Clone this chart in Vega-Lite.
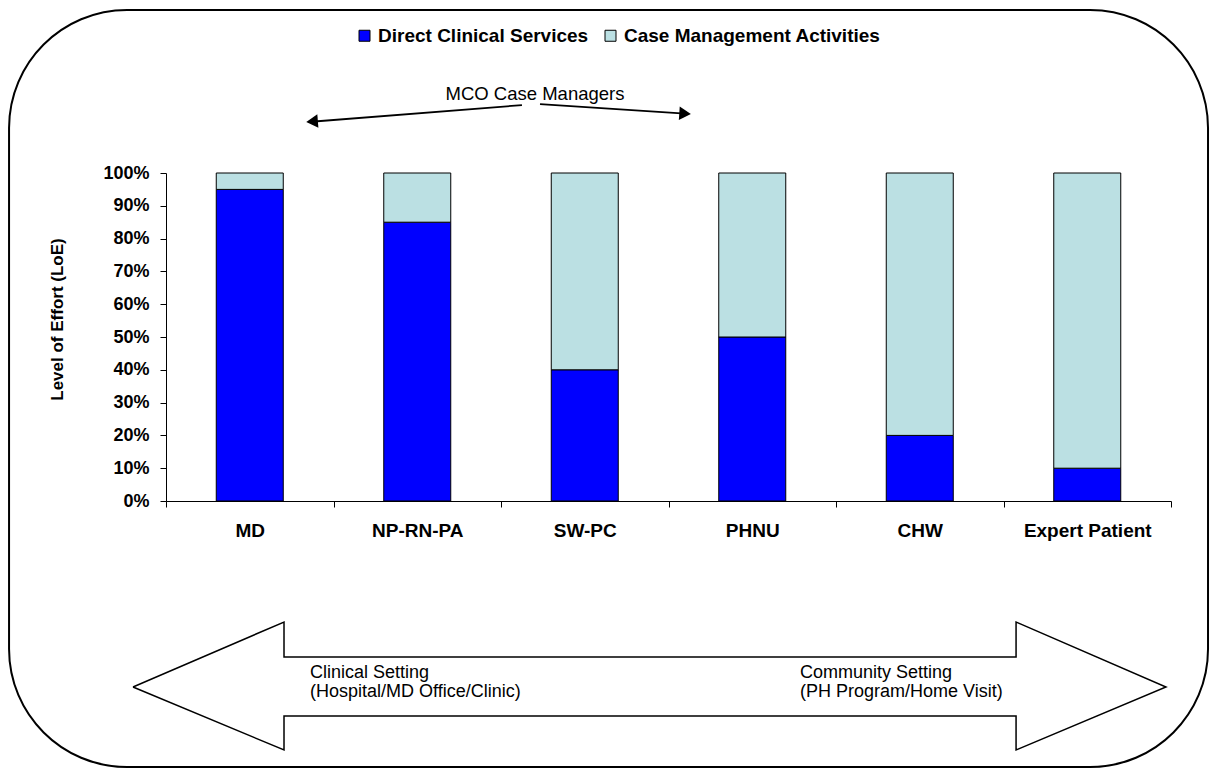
{
  "$schema": "https://vega.github.io/schema/vega-lite/v6.json",
  "width": 1005,
  "height": 328,
  "autosize": {"type": "none"},
  "padding": {"left": 166, "top": 173, "right": 39, "bottom": 274},
  "background": "white",
  "config": {
    "view": {"stroke": null},
    "font": "Liberation Sans",
    "axis": {
      "domainColor": "black",
      "tickColor": "black",
      "labelColor": "black",
      "titleColor": "black",
      "labelFont": "Liberation Sans",
      "titleFont": "Liberation Sans",
      "labelFontWeight": "bold",
      "grid": false
    }
  },
  "datasets": {
    "bars": [
      {"role": "MD", "series": "Direct Clinical Services", "value": 0.95},
      {"role": "MD", "series": "Case Management Activities", "value": 0.05},
      {"role": "NP-RN-PA", "series": "Direct Clinical Services", "value": 0.85},
      {"role": "NP-RN-PA", "series": "Case Management Activities", "value": 0.15},
      {"role": "SW-PC", "series": "Direct Clinical Services", "value": 0.40},
      {"role": "SW-PC", "series": "Case Management Activities", "value": 0.60},
      {"role": "PHNU", "series": "Direct Clinical Services", "value": 0.50},
      {"role": "PHNU", "series": "Case Management Activities", "value": 0.50},
      {"role": "CHW", "series": "Direct Clinical Services", "value": 0.20},
      {"role": "CHW", "series": "Case Management Activities", "value": 0.80},
      {"role": "Expert Patient", "series": "Direct Clinical Services", "value": 0.10},
      {"role": "Expert Patient", "series": "Case Management Activities", "value": 0.90}
    ],
    "border": [{"x": -0.937, "x2": 6.221, "y": 1.497, "y2": -0.811}],
    "bigArrow": [
      {"i": 0, "x": -0.197, "y": -0.567},
      {"i": 1, "x": 0.7045, "y": -0.369},
      {"i": 2, "x": 0.7045, "y": -0.4756},
      {"i": 3, "x": 5.075, "y": -0.4756},
      {"i": 4, "x": 5.075, "y": -0.369},
      {"i": 5, "x": 5.970, "y": -0.567},
      {"i": 6, "x": 5.075, "y": -0.759},
      {"i": 7, "x": 5.075, "y": -0.6555},
      {"i": 8, "x": 0.7045, "y": -0.6555},
      {"i": 9, "x": 0.7045, "y": -0.759},
      {"i": 10, "x": -0.197, "y": -0.567}
    ],
    "mcoLines": [
      {"x": 2.125, "y": 1.207, "x2": 0.848, "y2": 1.1555},
      {"x": 2.233, "y": 1.210, "x2": 3.122, "y2": 1.180}
    ],
    "mcoHeadLeft": [{"x": 0.872, "y": 1.157}],
    "mcoHeadRight": [{"x": 3.099, "y": 1.181}],
    "mcoText": [{"x": 2.203, "y": 1.241, "label": "MCO Case Managers"}],
    "settingText": [
      {"x": 0.860, "y": -0.5246, "label": "Clinical Setting\n(Hospital/MD Office/Clinic)"},
      {"x": 3.785, "y": -0.5246, "label": "Community Setting\n(PH Program/Home Visit)"}
    ]
  },
  "layer": [
    {
      "data": {"name": "border"},
      "mark": {"type": "rect", "fill": "transparent", "stroke": "black", "strokeWidth": 2, "cornerRadius": 118},
      "encoding": {
        "x": {"field": "x", "type": "quantitative", "scale": {"domain": [0, 6], "nice": false, "zero": false}, "axis": null},
        "x2": {"field": "x2"},
        "y": {"field": "y", "type": "quantitative", "scale": {"domain": [0, 1], "nice": false, "zero": false}, "axis": null},
        "y2": {"field": "y2"}
      }
    },
    {
      "data": {"name": "bigArrow"},
      "mark": {"type": "line", "stroke": "black", "strokeWidth": 1.5, "strokeJoin": "miter"},
      "encoding": {
        "x": {"field": "x", "type": "quantitative", "scale": {"domain": [0, 6], "nice": false, "zero": false}, "axis": null},
        "y": {"field": "y", "type": "quantitative", "scale": {"domain": [0, 1], "nice": false, "zero": false}, "axis": null},
        "order": {"field": "i", "type": "quantitative"}
      }
    },
    {
      "data": {"name": "mcoLines"},
      "mark": {"type": "rule", "stroke": "black", "strokeWidth": 1.8},
      "encoding": {
        "x": {"field": "x", "type": "quantitative", "scale": {"domain": [0, 6], "nice": false, "zero": false}, "axis": null},
        "x2": {"field": "x2"},
        "y": {"field": "y", "type": "quantitative", "scale": {"domain": [0, 1], "nice": false, "zero": false}, "axis": null},
        "y2": {"field": "y2"}
      }
    },
    {
      "data": {"name": "mcoHeadLeft"},
      "mark": {"type": "point", "shape": "triangle-left", "filled": true, "color": "black", "opacity": 1, "size": 180, "angle": -4.5},
      "encoding": {
        "x": {"field": "x", "type": "quantitative", "scale": {"domain": [0, 6], "nice": false, "zero": false}, "axis": null},
        "y": {"field": "y", "type": "quantitative", "scale": {"domain": [0, 1], "nice": false, "zero": false}, "axis": null}
      }
    },
    {
      "data": {"name": "mcoHeadRight"},
      "mark": {"type": "point", "shape": "triangle-right", "filled": true, "color": "black", "opacity": 1, "size": 180, "angle": 3.8},
      "encoding": {
        "x": {"field": "x", "type": "quantitative", "scale": {"domain": [0, 6], "nice": false, "zero": false}, "axis": null},
        "y": {"field": "y", "type": "quantitative", "scale": {"domain": [0, 1], "nice": false, "zero": false}, "axis": null}
      }
    },
    {
      "data": {"name": "mcoText"},
      "mark": {"type": "text", "font": "Liberation Sans", "fontSize": 18.5, "color": "black", "align": "center", "baseline": "middle"},
      "encoding": {
        "x": {"field": "x", "type": "quantitative", "scale": {"domain": [0, 6], "nice": false, "zero": false}, "axis": null},
        "y": {"field": "y", "type": "quantitative", "scale": {"domain": [0, 1], "nice": false, "zero": false}, "axis": null},
        "text": {"field": "label"}
      }
    },
    {
      "data": {"name": "settingText"},
      "mark": {"type": "text", "font": "Liberation Sans", "fontSize": 18, "color": "black", "align": "left", "baseline": "middle", "lineBreak": "\n", "lineHeight": 19},
      "encoding": {
        "x": {"field": "x", "type": "quantitative", "scale": {"domain": [0, 6], "nice": false, "zero": false}, "axis": null},
        "y": {"field": "y", "type": "quantitative", "scale": {"domain": [0, 1], "nice": false, "zero": false}, "axis": null},
        "text": {"field": "label"}
      }
    },
    {
      "data": {"name": "bars"},
      "mark": {"type": "bar", "stroke": "black", "strokeWidth": 1, "width": {"band": 0.4}},
      "encoding": {
        "x": {
          "field": "role", "type": "nominal", "sort": null,
          "scale": {"paddingInner": 0, "paddingOuter": 0},
          "axis": {"title": null, "labelAngle": 0, "tickBand": "extent", "tickSize": 6, "labelPadding": 14, "labelFontSize": 19, "labelFontWeight": "bold"}
        },
        "y": {
          "field": "value", "type": "quantitative", "stack": "zero",
          "scale": {"domain": [0, 1], "nice": false},
          "axis": {
            "title": "Level of Effort (LoE)", "titleFontSize": 17, "titleFontWeight": "bold",
            "titleX": -109, "titleY": 146, "titleAngle": -90, "titleAlign": "center", "titleBaseline": "middle",
            "values": [0, 0.1, 0.2, 0.3, 0.4, 0.5, 0.6, 0.7, 0.8, 0.9, 1],
            "format": ".0%", "tickSize": 6, "labelPadding": 11, "labelFontSize": 18, "labelFontWeight": "bold"
          }
        },
        "color": {
          "field": "series", "type": "nominal",
          "scale": {"domain": ["Direct Clinical Services", "Case Management Activities"], "range": ["#0000FF", "#BBE0E3"]},
          "legend": {
            "orient": "none", "legendX": 189, "legendY": -147, "direction": "horizontal", "title": null,
            "symbolType": "square", "symbolSize": 121, "symbolStrokeColor": "black", "symbolStrokeWidth": 1, "symbolOpacity": 1,
            "labelFontSize": 19, "labelFontWeight": "bold", "labelFont": "Liberation Sans", "labelColor": "black", "labelLimit": 500,
            "labelOffset": 4, "columnPadding": 12, "padding": 0
          }
        },
        "order": {"field": "series", "sort": "descending"}
      }
    }
  ],
  "resolve": {"scale": {"x": "independent", "y": "independent"}}
}
